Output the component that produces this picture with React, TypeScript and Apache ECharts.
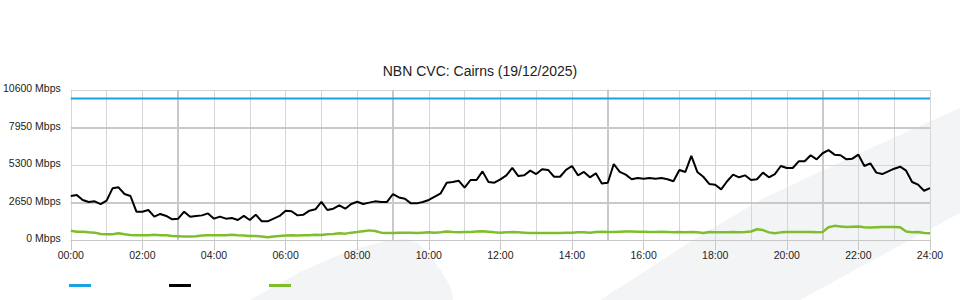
import React, { useEffect, useRef } from "react";
import * as echarts from "echarts";

const TITLE = "NBN CVC: Cairns (19/12/2025)";
const SERIES_NAMES = ["Capacity", "Download", "Upload"];
const SERIES_COLORS = ["#1aa3e3", "#000000", "#7dbf2a"];
const STEP_MINUTES = 10;
const Y_TICKS = [0, 2650, 5300, 7950, 10600];
const DARK_Y_LINES = [2650, 7950];
const DARK_X_LINES = [3, 9, 15, 21];
const CAPACITY = 10000;

// Download (Mbps), every 10 minutes from 00:00 to 24:00
const download = [
  3110, 3180, 2830, 2690, 2730, 2540,
  2780, 3650, 3720, 3250, 3110, 2000,
  2000, 2120, 1650, 1840, 1700, 1460,
  1510, 2000, 1650, 1700, 1740, 1880,
  1510, 1650, 1510, 1550, 1410, 1700,
  1410, 1790, 1320, 1320, 1510, 1700,
  2070, 2030, 1740, 1790, 2070, 2170,
  2690, 2120, 2210, 2450, 2210, 2540,
  2700, 2540, 2640, 2730, 2690, 2690,
  3250, 3010, 2920, 2590, 2590, 2690,
  2830, 3060, 3300, 4050, 4100, 4190,
  3700, 4240, 4240, 4850, 4100, 4050,
  4290, 4570, 5100, 4520, 4570, 4900,
  4660, 5000, 4950, 4470, 4470, 4950,
  5230, 4570, 4810, 4430, 4710, 4000,
  4050, 5370, 4810, 4620, 4290, 4380,
  4330, 4380, 4330, 4380, 4290, 4150,
  4950, 4810, 5940, 4810, 4470, 3960,
  3910, 3580, 4150, 4620, 4430, 4570,
  4240, 4290, 4760, 4430, 4660, 5230,
  5090, 5090, 5560, 5560, 5990, 5700,
  6130, 6350, 6030, 5990, 5700, 5750,
  6030, 5230, 5420, 4760, 4660, 4850,
  5040, 5180, 4900, 4100, 3910, 3480,
  3670,
];

// Upload (Mbps), every 10 minutes from 00:00 to 24:00
const upload = [
  660, 590, 580, 540, 520, 420,
  400, 400, 470, 400, 350, 330,
  330, 330, 370, 330, 330, 280,
  260, 240, 240, 260, 310, 330,
  330, 330, 330, 370, 330, 310,
  280, 280, 240, 190, 240, 280,
  310, 330, 310, 330, 330, 370,
  350, 400, 420, 470, 450, 520,
  560, 620, 680, 640, 520, 490,
  500, 520, 520, 520, 500, 520,
  540, 520, 540, 600, 560, 540,
  560, 560, 600, 620, 580, 540,
  520, 540, 560, 540, 520, 500,
  500, 500, 500, 500, 500, 520,
  520, 540, 540, 520, 560, 580,
  560, 560, 580, 600, 600, 580,
  580, 560, 560, 580, 560, 540,
  560, 540, 560, 540, 500, 560,
  540, 540, 540, 560, 540, 560,
  600, 760, 700, 540, 470, 540,
  560, 560, 560, 560, 560, 540,
  560, 900, 1000, 960, 920, 940,
  960, 900, 880, 900, 920, 920,
  920, 900, 600, 540, 560, 500,
  470,
];

const toPairs = (vals: number[]) =>
  vals.map((v, i) => [(i * STEP_MINUTES) / 60, v]);

const fmtHour = (v: number) => {
  if (v % 2 !== 0) return "";
  return `${String(v).padStart(2, "0")}:00`;
};

export default function App() {
  const ref = useRef<HTMLDivElement>(null);
  useEffect(() => {
    if (!ref.current) return;
    const chart = echarts.init(ref.current, null, { renderer: "svg" });
    const font = "'Liberation Sans', Arial, sans-serif";
    chart.setOption({
      animation: false,
      backgroundColor: "#ffffff",
      textStyle: { fontFamily: font },
      title: {
        text: TITLE,
        left: "center",
        top: 59,
        textStyle: { fontSize: 14, fontWeight: "normal", color: "#222", fontFamily: font },
      },
      graphic: [
        {
          type: "polygon",
          z: -10,
          silent: true,
          shape: {
            points: [
              [250, 300], [300, 272], [350, 250], [385, 241], [405, 239],
              [418, 243], [430, 256], [442, 272], [451, 288], [453, 300],
            ],
          },
          style: { fill: "#f3f4f6" },
        },
        {
          type: "polygon",
          z: -10,
          silent: true,
          shape: {
            points: [
              [600, 300], [650, 268], [693, 240], [760, 200], [860, 153],
              [960, 108], [960, 213], [910, 240], [800, 300],
            ],
          },
          style: { fill: "#f3f4f6" },
        },
      ],
      legend: {
        left: 64,
        top: 279,
        icon: "rect",
        itemWidth: 22,
        itemHeight: 3,
        itemGap: 78,
        formatter: () => "",
        data: SERIES_NAMES,
      },
      grid: { left: 70, right: 30, top: 90, bottom: 60, containLabel: false },
      xAxis: {
        type: "value",
        min: 0,
        max: 24,
        interval: 2,
        axisLine: { show: true, lineStyle: { color: "#c8c8c8", width: 1 } },
        axisTick: { show: true, length: 10, lineStyle: { color: "#c8c8c8" } },
        minorTick: { show: false, splitNumber: 2 },
        minorSplitLine: { show: true, lineStyle: { color: "#d6d6d6", width: 1 } },
        splitLine: { show: true, lineStyle: { color: "#d6d6d6", width: 1 } },
        axisLabel: {
          formatter: fmtHour,
          margin: 9,
          fontSize: 10.5,
          color: "#222",
          fontFamily: font,
          showMinLabel: true,
          showMaxLabel: true,
        },
      },
      yAxis: {
        type: "value",
        min: Y_TICKS[0],
        max: Y_TICKS[Y_TICKS.length - 1],
        interval: Y_TICKS[1] - Y_TICKS[0],
        axisLine: { show: true, lineStyle: { color: "#d6d6d6" } },
        axisTick: { show: false },
        splitLine: { show: true, lineStyle: { color: "#d6d6d6", width: 1 } },
        axisLabel: {
          formatter: (v: number) => `${v} Mbps`,
          margin: 10,
          fontSize: 10.5,
          color: "#222",
          fontFamily: font,
          verticalAlign: "bottom",
          lineHeight: 4,
        },
      },
      series: [
        {
          name: SERIES_NAMES[0],
          type: "line",
          data: [[0, CAPACITY], [24, CAPACITY]],
          showSymbol: false,
          symbol: "none",
          color: SERIES_COLORS[0],
          lineStyle: { color: SERIES_COLORS[0], width: 2 },
          z: 4,
          markLine: {
            silent: true,
            symbol: "none",
            label: { show: false },
            animation: false,
            lineStyle: { color: "#c9c9c9", width: 2, type: "solid" },
            z: 1,
            data: [
              ...DARK_Y_LINES.map((y) => ({ yAxis: y })),
              ...DARK_X_LINES.map((x) => ({ xAxis: x })),
            ],
          },
        },
        {
          name: SERIES_NAMES[1],
          type: "line",
          data: toPairs(download),
          showSymbol: false,
          symbol: "none",
          color: SERIES_COLORS[1],
          lineStyle: { color: SERIES_COLORS[1], width: 2 },
          z: 5,
        },
        {
          name: SERIES_NAMES[2],
          type: "line",
          data: toPairs(upload),
          showSymbol: false,
          symbol: "none",
          color: SERIES_COLORS[2],
          lineStyle: { color: SERIES_COLORS[2], width: 2.5 },
          z: 5,
        },
      ],
    });
    return () => chart.dispose();
  }, []);
  return (
    <div
      ref={ref}
      style={{ position: "fixed", left: 0, top: 0, width: 960, height: 300 }}
    />
  );
}
